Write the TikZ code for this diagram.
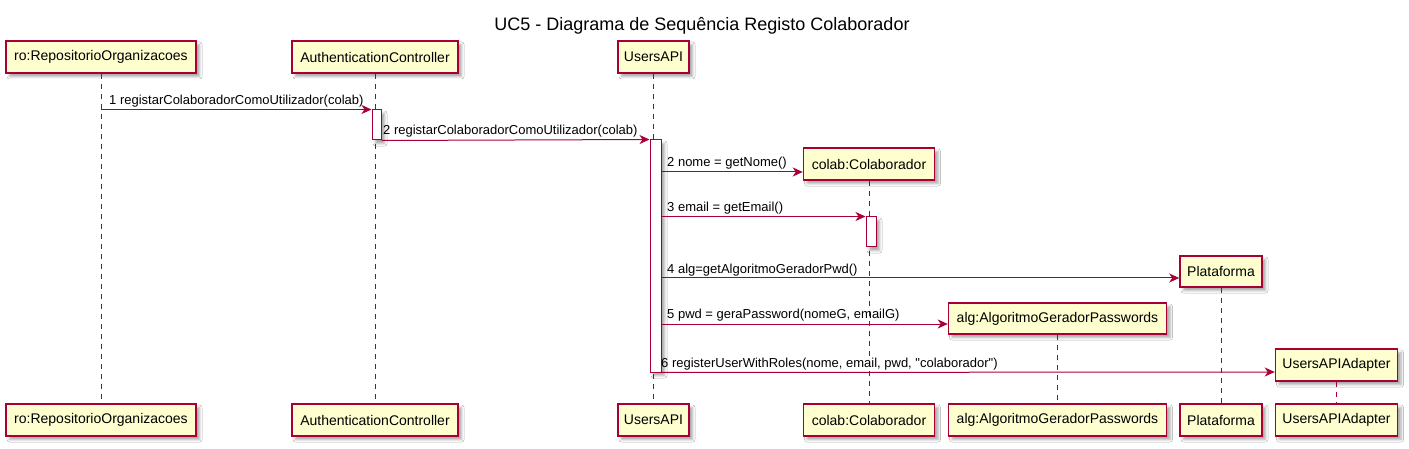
\documentclass[tikz,border=0pt]{standalone}
\usepackage{fontspec}
\setmainfont{Liberation Sans}[Ligatures=TeXOff]
\usetikzlibrary{arrows.meta,shadows.blur}
\definecolor{umlred}{HTML}{A80036}
\definecolor{umlfill}{HTML}{FEFECE}
\begin{document}
\begin{tikzpicture}[x=1pt,y=-1pt,
  shad/.style={blur shadow={shadow xshift=3.5pt, shadow yshift=-3.5pt, shadow blur radius=2.5pt, shadow opacity=35}},
  part/.style={shad, draw=umlred, line width=1.5pt, fill=umlfill, font=\fontsize{14}{16}\selectfont, inner sep=0pt, minimum height=32pt},
  actbox/.style={shad, draw=umlred, line width=1pt, fill=white, inner sep=0pt},
  life/.style={draw=umlred, line width=1pt, dash pattern=on 5pt off 5pt},
  msg/.style={draw=umlred, line width=1pt, -{Stealth[length=10pt,width=9pt,inset=3pt]}},
  lbl/.style={font=\fontsize{13}{15}\selectfont, anchor=base west, inner sep=0pt}
]
\useasboundingbox (0,0) rectangle (1409,449);
\fill[white] (0,0) rectangle (1409,449);

\node[font=\fontsize{18}{20}\selectfont, anchor=base, inner sep=0pt] (title) at (702,31) {UC5 - Diagrama de Sequência Registo Colaborador};

% participants (top)
\node[part, minimum width=190pt] (roT) at (101,57) {ro:RepositorioOrganizacoes};
\node[part, minimum width=166pt] (authT) at (375,57) {AuthenticationController};
\node[part, minimum width=71pt] (apiT) at (653.5,57) {UsersAPI};
% participants (bottom)
\node[part, minimum width=190pt] (roB) at (101,420) {ro:RepositorioOrganizacoes};
\node[part, minimum width=166pt] (authB) at (375,420) {AuthenticationController};
\node[part, minimum width=71pt] (apiB) at (653.5,420) {UsersAPI};
\node[part, minimum width=131pt] (colabB) at (869,420) {colab:Colaborador};
\node[part, minimum width=218pt] (algB) at (1057.5,420) {alg:AlgoritmoGeradorPasswords};
\node[part, minimum width=82pt] (platB) at (1221,420) {Plataforma};
\node[part, minimum width=122pt] (adapB) at (1336.5,420) {UsersAPIAdapter};
% created participants
\node[part, minimum width=131pt] (colabT) at (869,164) {colab:Colaborador};
\node[part, minimum width=82pt, minimum height=31pt] (platT) at (1221,271.5) {Plataforma};
\node[part, minimum width=218pt, minimum height=31pt] (algT) at (1057.5,318.5) {alg:AlgoritmoGeradorPasswords};
\node[part, minimum width=122pt] (adapT) at (1336.5,365) {UsersAPIAdapter};

% lifelines
\draw[life] (roT.south) -- (roB.north);
\draw[life] (authT.south) -- (authB.north);
\draw[life] (apiT.south) -- (apiB.north);
\draw[life] (colabT.south) -- (colabB.north);
\draw[life] (algT.south) -- (algB.north);
\draw[life] (platT.south) -- (platB.north);
\draw[life] (adapT.south) -- (adapB.north);

% activations
\node[actbox, minimum width=9pt, minimum height=30pt] (authA) at (376.5,125) {};
\node[actbox, minimum width=11pt, minimum height=232pt] (apiA) at (655.5,256) {};
\node[actbox, minimum width=10pt, minimum height=30pt] (colabA) at (871,232) {};

% message levels
\coordinate (y3) at (0,172);
\coordinate (y5) at (0,278);
\coordinate (y6) at (0,324);
\coordinate (y7) at (0,372);

% messages
\draw[msg] (roT.south |- authA.north west) -- (authA.north west);
\node[lbl] (l1) at (109,105) {1 registarColaboradorComoUtilizador(colab)};

\draw[msg] (authA.south east) -- (apiA.north west);
\node[lbl] (l2) at (383,135) {2 registarColaboradorComoUtilizador(colab)};

\draw[msg] (apiA.east |- y3) -- (colabT.west |- y3);
\node[lbl] (l3) at (667,167) {2 nome = getNome()};

\draw[msg] (apiA.east |- colabA.north west) -- (colabA.north west);
\node[lbl] (l4) at (667,212) {3 email = getEmail()};

\draw[msg] (apiA.east |- y5) -- (platT.west |- y5);
\node[lbl] (l5) at (667,273) {4 alg=getAlgoritmoGeradorPwd()};

\draw[msg] (apiA.east |- y6) -- (algT.west |- y6);
\node[lbl] (l6) at (667,319) {5 pwd = geraPassword(nomeG, emailG)};

\draw[msg] (apiA.south east) -- (adapT.west |- y7);
\node[lbl] (l7) at (661,367) {6 registerUserWithRoles(nome, email, pwd, "colaborador")};
\end{tikzpicture}
\end{document}
